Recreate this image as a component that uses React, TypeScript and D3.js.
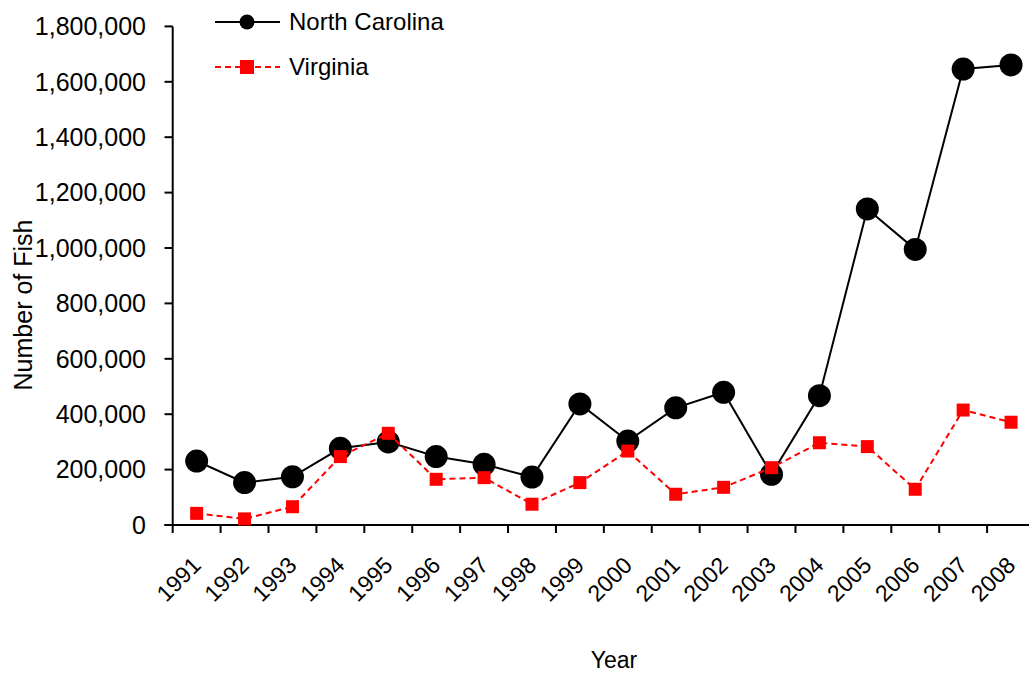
import React from "react";
import * as d3 from "d3";

const years = ["1991","1992","1993","1994","1995","1996","1997","1998","1999","2000","2001","2002","2003","2004","2005","2006","2007","2008"];
const northCarolina = [231000,153000,174000,277000,300000,247000,219000,173000,437000,303000,423000,479000,183000,467000,1141000,995000,1646000,1661000];
const virginia = [42000,22000,66000,247000,331000,165000,171000,75000,153000,267000,111000,136000,207000,297000,283000,129000,415000,371000];
const yTicks = [0,200000,400000,600000,800000,1000000,1200000,1400000,1600000,1800000];

const W = 1029, H = 673;
const FONT = "'Liberation Sans', Arial, sans-serif";

export default function App() {
  const x = d3.scaleBand<string>().domain(years).range([172.7, 1035]).padding(0);
  const y = d3.scaleLinear().domain([0, 1800000]).range([525, 26.4]);
  const cx = (yr: string) => (x(yr) as number) + x.bandwidth() / 2;
  const fmt = d3.format(",");
  const line = d3.line<number>().x((_, i) => cx(years[i])).y((v) => y(v));
  const tickXs = years.map((yr) => x(yr) as number).concat([(x(years[years.length - 1]) as number) + x.bandwidth()]);
  const sq = 13;

  return (
    <svg width={W} height={H} style={{ position: "absolute", left: 0, top: 0, background: "#fff" }} fontFamily={FONT}>
      {/* y axis */}
      <line x1={172.7} x2={172.7} y1={y(1800000)} y2={y(0)} stroke="#000" strokeWidth={2} />
      {yTicks.map((t) => (
        <g key={t}>
          <line x1={164.5} x2={172.7} y1={y(t)} y2={y(t)} stroke="#000" strokeWidth={2} />
          <text x={146} y={y(t)} dy="0.35em" textAnchor="end" fontSize={25} fill="#000">{fmt(t)}</text>
        </g>
      ))}
      {/* x axis */}
      <line x1={164.5} x2={W} y1={y(0)} y2={y(0)} stroke="#000" strokeWidth={2} />
      {tickXs.map((tx, i) => (
        <line key={i} x1={tx} x2={tx} y1={y(0)} y2={y(0) + 8} stroke="#000" strokeWidth={2} />
      ))}
      {years.map((yr) => (
        <text key={yr} transform={`translate(${cx(yr)},${561}) rotate(-45)`} textAnchor="end" dy="0.35em" fontSize={23} fill="#000">{yr}</text>
      ))}
      <text x={614} y={668} textAnchor="middle" fontSize={23} fill="#000">Year</text>
      <text transform={`translate(32,305) rotate(-90)`} textAnchor="middle" fontSize={25} fill="#000">Number of Fish</text>

      {/* North Carolina */}
      <path d={line(northCarolina) || ""} fill="none" stroke="#000" strokeWidth={2} />
      {northCarolina.map((v, i) => (
        <circle key={i} cx={cx(years[i])} cy={y(v)} r={11.5} fill="#000" />
      ))}
      {/* Virginia */}
      <path d={line(virginia) || ""} fill="none" stroke="#ff0000" strokeWidth={2} strokeDasharray="6,4" />
      {virginia.map((v, i) => (
        <rect key={i} x={cx(years[i]) - sq / 2} y={y(v) - sq / 2} width={sq} height={sq} fill="#ff0000" />
      ))}

      {/* legend */}
      <line x1={215} x2={280} y1={22} y2={22} stroke="#000" strokeWidth={2} />
      <circle cx={247} cy={22} r={7.5} fill="#000" />
      <text x={289} y={22} dy="0.35em" fontSize={24} fill="#000">North Carolina</text>
      <line x1={215} x2={280} y1={67} y2={67} stroke="#ff0000" strokeWidth={2} strokeDasharray="6,4" />
      <rect x={247 - 7} y={67 - 7} width={14} height={14} fill="#ff0000" />
      <text x={289} y={67} dy="0.35em" fontSize={24} fill="#000">Virginia</text>
    </svg>
  );
}
